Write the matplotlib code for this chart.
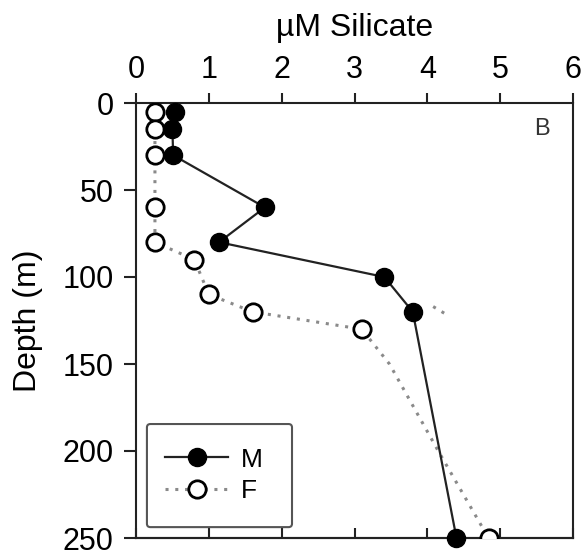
import numpy as np
import matplotlib.pyplot as plt
from matplotlib.patches import FancyBboxPatch

plt.rcParams['font.family'] = ['Liberation Sans', 'DejaVu Sans']

# Silicate profiles (uM) vs depth (m)
m_depth = [5, 15, 30, 60, 80, 100, 120, 250]
m_sil = [0.54, 0.50, 0.51, 1.77, 1.14, 3.41, 3.80, 4.40]

f_depth = [5, 15, 30, 60, 80, 90, 110, 120, 130, 250]
f_sil = [0.26, 0.26, 0.26, 0.26, 0.26, 0.80, 1.00, 1.60, 3.10, 4.84]

# dotted F line also bends at unmarked depths
f_line_depth = [5, 15, 30, 60, 80, 90, 110, 120, 130, 150, 200, 250]
f_line_sil = [0.26, 0.26, 0.26, 0.26, 0.26, 0.80, 1.00, 1.60, 3.10, 3.48, 4.15, 4.84]

# short stray dotted piece right of the M profile
stray_depth = [117, 122]
stray_sil = [4.08, 4.28]

xticks = [0, 1, 2, 3, 4, 5, 6]
yticks = [0, 50, 100, 150, 200, 250]

ink = '#222222'
dotc = '#8a8a8a'

fig = plt.figure(figsize=(5.85, 5.54), dpi=100)
ax = fig.add_axes([136/585, 1-538/554, 437/585, 435/554])

ax.plot(f_line_sil, f_line_depth, ls=(0, (1, 2.2)), color=dotc, lw=2.2, zorder=2)
ax.plot(stray_sil, stray_depth, ls=(0, (1, 2.2)), color=dotc, lw=2.2, zorder=2)
ax.plot(f_sil, f_depth, ls='none', marker='o', ms=12.5, mfc='white', mec='black',
        mew=2.0, zorder=4)
ax.plot(m_sil, m_depth, ls='-', color=ink, lw=1.6, marker='o', ms=13, mfc='black',
        mec='black', zorder=5, clip_on=False)

ax.set_xlim(0, 6)
ax.set_ylim(250, 0)
ax.set_xticks(xticks)
ax.set_yticks(yticks)
ax.xaxis.set_ticks_position('top')
ax.xaxis.set_label_position('top')
ax.tick_params(axis='x', direction='out', length=7, width=1.5, color=ink,
               labelsize=22, pad=6)
ax.tick_params(axis='y', direction='out', length=9, width=1.5, color=ink,
               labelsize=22, pad=7)
for s in ax.spines.values():
    s.set_linewidth(1.5)
    s.set_color(ink)

# inward ticks on the bottom spine
sec = ax.secondary_xaxis('bottom')
sec.set_xticks(xticks)
sec.tick_params(direction='in', length=7, width=1.5, color=ink, labelbottom=False)
sec.spines['bottom'].set_linewidth(1.5)
sec.spines['bottom'].set_color(ink)

ax.set_xlabel('µM Silicate', fontsize=23, labelpad=14)
ax.set_ylabel('Depth (m)', fontsize=23, labelpad=14)

ax.text(0.929, 0.94, 'B', transform=ax.transAxes, fontsize=17, ha='center',
        va='center', color='#333333')

# legend box
box = FancyBboxPatch((0.025, 0.025), 0.332, 0.237, boxstyle='round,pad=0,rounding_size=0.008',
                     transform=ax.transAxes, fc='white', ec='#555555', lw=1.5, zorder=6)
ax.add_patch(box)
hm, = ax.plot([], [], ls='-', color=ink, lw=1.6, marker='o', ms=13, mfc='black', mec='black')
hf, = ax.plot([], [], ls=(0, (1, 2.2)), color=dotc, lw=2.2, marker='o', ms=12.5,
              mfc='white', mec='black', mew=2.0)
leg = ax.legend([hm, hf], ['M', 'F'], loc='upper left', bbox_to_anchor=(0.066, 0.208),
                frameon=False, fontsize=19, handlelength=2.4, handletextpad=0.5,
                labelspacing=0.3, borderpad=0, borderaxespad=0)
leg.set_zorder(7)

fig.savefig('out.png', dpi=100)
